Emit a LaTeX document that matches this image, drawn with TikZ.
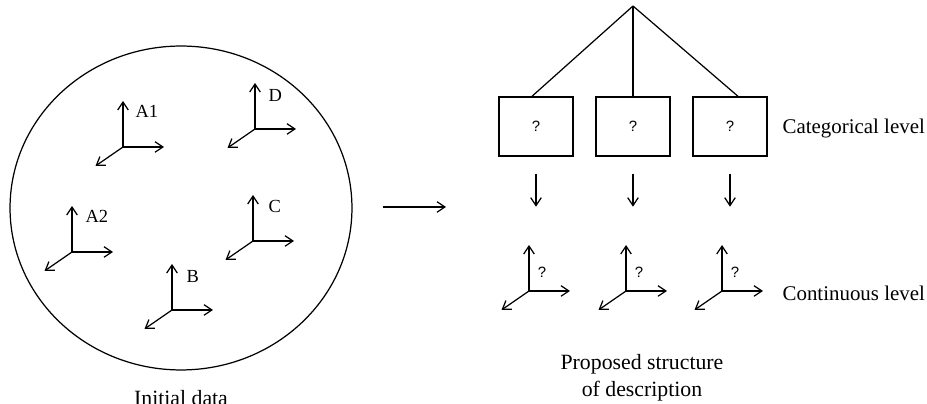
\documentclass[tikz,border=0pt]{standalone}
\usepackage{fontspec}
\setmainfont{Liberation Serif}
\setsansfont{Liberation Sans}
\usetikzlibrary{arrows.meta}
\usetikzlibrary{shapes.geometric}

\begin{document}
\begin{tikzpicture}[x=0.02cm, y=-0.02cm, line width=0.7pt]
    \tikzset{arr/.style={-{Straight Barb[length=4.5pt,width=6pt]}}}
    \tikzset{lbl/.style={font=\fontsize{10.5}{12}\selectfont, anchor=west, inner sep=0pt}}
    \tikzset{big/.style={font=\fontsize{12.4}{15.4}\selectfont, align=center}}
    \tikzset{side/.style={font=\fontsize{11.9}{14}\selectfont, anchor=base west, inner sep=0pt}}
    \tikzset{qm/.style={font=\sffamily\fontsize{8.5}{10}\selectfont, inner sep=0pt}}
    \tikzset{catbox/.style={draw, minimum width=1.48cm, minimum height=1.18cm, line width=0.8pt, font=\sffamily\fontsize{8.5}{10}\selectfont}}
    \tikzset{triad/.pic={
        \coordinate (-o) at (0,0);
        \draw[arr] (0,0) -- (0,-46);
        \draw[arr] (0,0) -- (41,0);
        \draw[arr] (0,0) -- (-27.5,19);
    }}
    \useasboundingbox (0,0) rectangle (927,404);
    % initial data
    \node[draw, ellipse, minimum width=6.84cm, minimum height=6.48cm, inner sep=0pt] (data) at (181,208) {};
    \pic (a1) at (123,147) {triad};
    \pic (d) at (255,129) {triad};
    \pic (a2) at (72,252) {triad};
    \pic (c) at (253,241) {triad};
    \pic (b) at (172,310) {triad};
    \node[lbl] (a1l) at ([shift={(12,-36)}]a1-o) {A1};
    \node[lbl] (dl) at ([shift={(13,-34)}]d-o) {D};
    \node[lbl] (a2l) at ([shift={(13,-36)}]a2-o) {A2};
    \node[lbl] (cl) at ([shift={(15,-35)}]c-o) {C};
    \node[lbl] (bl) at ([shift={(14,-34)}]b-o) {B};
    \node[big, anchor=base] (datal) at (181,406) {Initial data};
    % transition
    \coordinate (m1) at (383,207);
    \coordinate (m2) at (446,207);
    \draw[arr] (m1) -- (m2);
    % proposed structure
    \coordinate (root) at (633,6);
    \node[catbox] (b1) at (536,126.5) {?};
    \node[catbox] (b2) at (633,126.5) {?};
    \node[catbox] (b3) at (730,126.5) {?};
    \draw (root) -- ([xshift=-0.08cm]b1.north);
    \draw (root) -- (b2.north);
    \draw (root) -- ([xshift=0.16cm]b3.north);
    \node[side] (catl) at (782,134) {Categorical level};
    \foreach \i in {1,2,3}
        \draw[arr] ([yshift=-0.34cm]b\i.south) -- ++(0,33);
    \pic (c1) at (529,291) {triad};
    \pic (c2) at (626,291) {triad};
    \pic (c3) at (722,291) {triad};
    \foreach \i in {1,2,3}
        \node[qm] (q\i) at ([shift={(13,-19)}]c\i-o) {?};
    \node[side] (contl) at (782,301) {Continuous level};
    \node[big] (propl) at (642,378) {Proposed structure\\of description};
\end{tikzpicture}
\end{document}
